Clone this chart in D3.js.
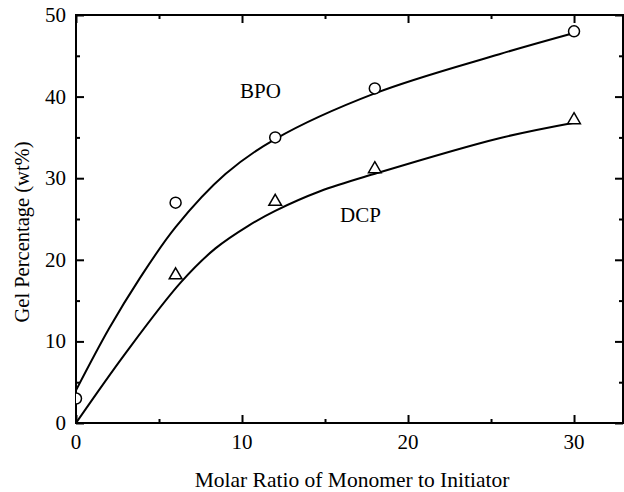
<!DOCTYPE html>
<html>
<head>
<meta charset="utf-8">
<script src="https://cdn.jsdelivr.net/npm/d3@7"></script>
<style>
  body { margin: 0; background: #fff; }
  svg { display: block; }
  text { font-family: "Liberation Serif", "Times New Roman", serif; fill: #000; }
</style>
</head>
<body>
<svg id="chart" width="624" height="492"></svg>
<script>
// measured points
const ratios = [0, 6, 12, 18, 30];
const bpoGel = [3, 27, 35, 41, 48];
const dcpRatios = [6, 12, 18, 30];
const dcpGel = [18, 27, 31, 37];

// fitted curves
const bpoCurveX = [0, 2, 3.8, 6, 9, 12, 18, 25.5, 30];
const bpoCurveY = [4.0, 11.6, 17.6, 24.0, 30.5, 34.8, 40.4, 45.2, 47.8];
const dcpCurveX = [0, 3, 6.3, 8.4, 10.4, 12, 14.7, 18.1, 25.5, 30];
const dcpCurveY = [0, 8.6, 17.2, 21.4, 24.2, 26.0, 28.4, 30.6, 34.9, 36.8];

const xMajor = [0, 10, 20, 30];
const xMinor = [5, 15, 25];
const yMajor = [0, 10, 20, 30, 40, 50];
const yMinor = [5, 15, 25, 35, 45];

const svg = d3.select("#chart");
const pL = 76, pR = 623, pT = 15, pB = 423;

const x = d3.scaleLinear().domain([0, 32.95]).range([pL, pR]);
const y = d3.scaleLinear().domain([0, 50]).range([pB, pT]);

svg.append("clipPath").attr("id", "plot-clip")
  .append("rect").attr("x", pL).attr("y", pT)
  .attr("width", pR - pL).attr("height", pB - pT);

function tickAxis(axisFn, scale, vals, size, tx, ty) {
  const g = svg.append("g").attr("transform", "translate(" + tx + "," + ty + ")")
    .call(axisFn(scale).tickValues(vals).tickSizeInner(-size).tickSizeOuter(0).tickFormat(""));
  g.select(".domain").remove();
  g.selectAll("line").attr("stroke", "#000").attr("stroke-width", 2);
}

tickAxis(d3.axisLeft, y, yMajor, 8, pL, 0);
tickAxis(d3.axisLeft, y, yMinor, 4, pL, 0);
tickAxis(d3.axisRight, y, yMajor, 8, pR, 0);
tickAxis(d3.axisRight, y, yMinor, 4, pR, 0);
tickAxis(d3.axisBottom, x, xMajor, 8, 0, pB);
tickAxis(d3.axisBottom, x, xMinor, 4, 0, pB);
tickAxis(d3.axisTop, x, xMajor, 8, 0, pT);
tickAxis(d3.axisTop, x, xMinor, 4, 0, pT);

// frame
svg.append("rect").attr("x", pL).attr("y", pT)
  .attr("width", pR - pL).attr("height", pB - pT)
  .attr("fill", "none").attr("stroke", "#000").attr("stroke-width", 2);

// tick labels
svg.selectAll(".ylab").data(yMajor).enter().append("text")
  .attr("class", "ylab")
  .attr("x", pL - 10).attr("y", d => y(d) + 7)
  .attr("text-anchor", "end").attr("font-size", 21)
  .text(d => d);

svg.selectAll(".xlab").data(xMajor).enter().append("text")
  .attr("class", "xlab")
  .attr("x", d => x(d)).attr("y", 449)
  .attr("text-anchor", "middle").attr("font-size", 21)
  .text(d => d);

// axis titles
svg.append("text").attr("x", 352).attr("y", 487)
  .attr("text-anchor", "middle").attr("font-size", 21.5)
  .text("Molar Ratio of Monomer to Initiator");

svg.append("text")
  .attr("transform", "translate(29,232) rotate(-90)")
  .attr("text-anchor", "middle").attr("font-size", 20.5)
  .text("Gel Percentage (wt%)");

// curves
const line = d3.line().x(d => x(d[0])).y(d => y(d[1])).curve(d3.curveCatmullRom.alpha(0.5));
const plot = svg.append("g").attr("clip-path", "url(#plot-clip)");

plot.append("path").datum(d3.zip(bpoCurveX, bpoCurveY))
  .attr("d", line).attr("fill", "none").attr("stroke", "#000").attr("stroke-width", 2);
plot.append("path").datum(d3.zip(dcpCurveX, dcpCurveY))
  .attr("d", line).attr("fill", "none").attr("stroke", "#000").attr("stroke-width", 2);

// markers
plot.selectAll(".bpo").data(d3.zip(ratios, bpoGel)).enter().append("circle")
  .attr("class", "bpo")
  .attr("cx", d => x(d[0])).attr("cy", d => y(d[1])).attr("r", 5.5)
  .attr("fill", "#fff").attr("stroke", "#000").attr("stroke-width", 1.5);

const tri = d3.symbol().type(d3.symbolTriangle).size(70);
plot.selectAll(".dcp").data(d3.zip(dcpRatios, dcpGel)).enter().append("path")
  .attr("class", "dcp")
  .attr("transform", d => "translate(" + x(d[0]) + "," + (y(d[1]) - 1) + ")")
  .attr("d", tri)
  .attr("fill", "#fff").attr("stroke", "#000").attr("stroke-width", 1.5);

// series labels
svg.append("text").attr("x", 240).attr("y", 98).attr("font-size", 21).text("BPO");
svg.append("text").attr("x", 340).attr("y", 222).attr("font-size", 21).text("DCP");
</script>
</body>
</html>
